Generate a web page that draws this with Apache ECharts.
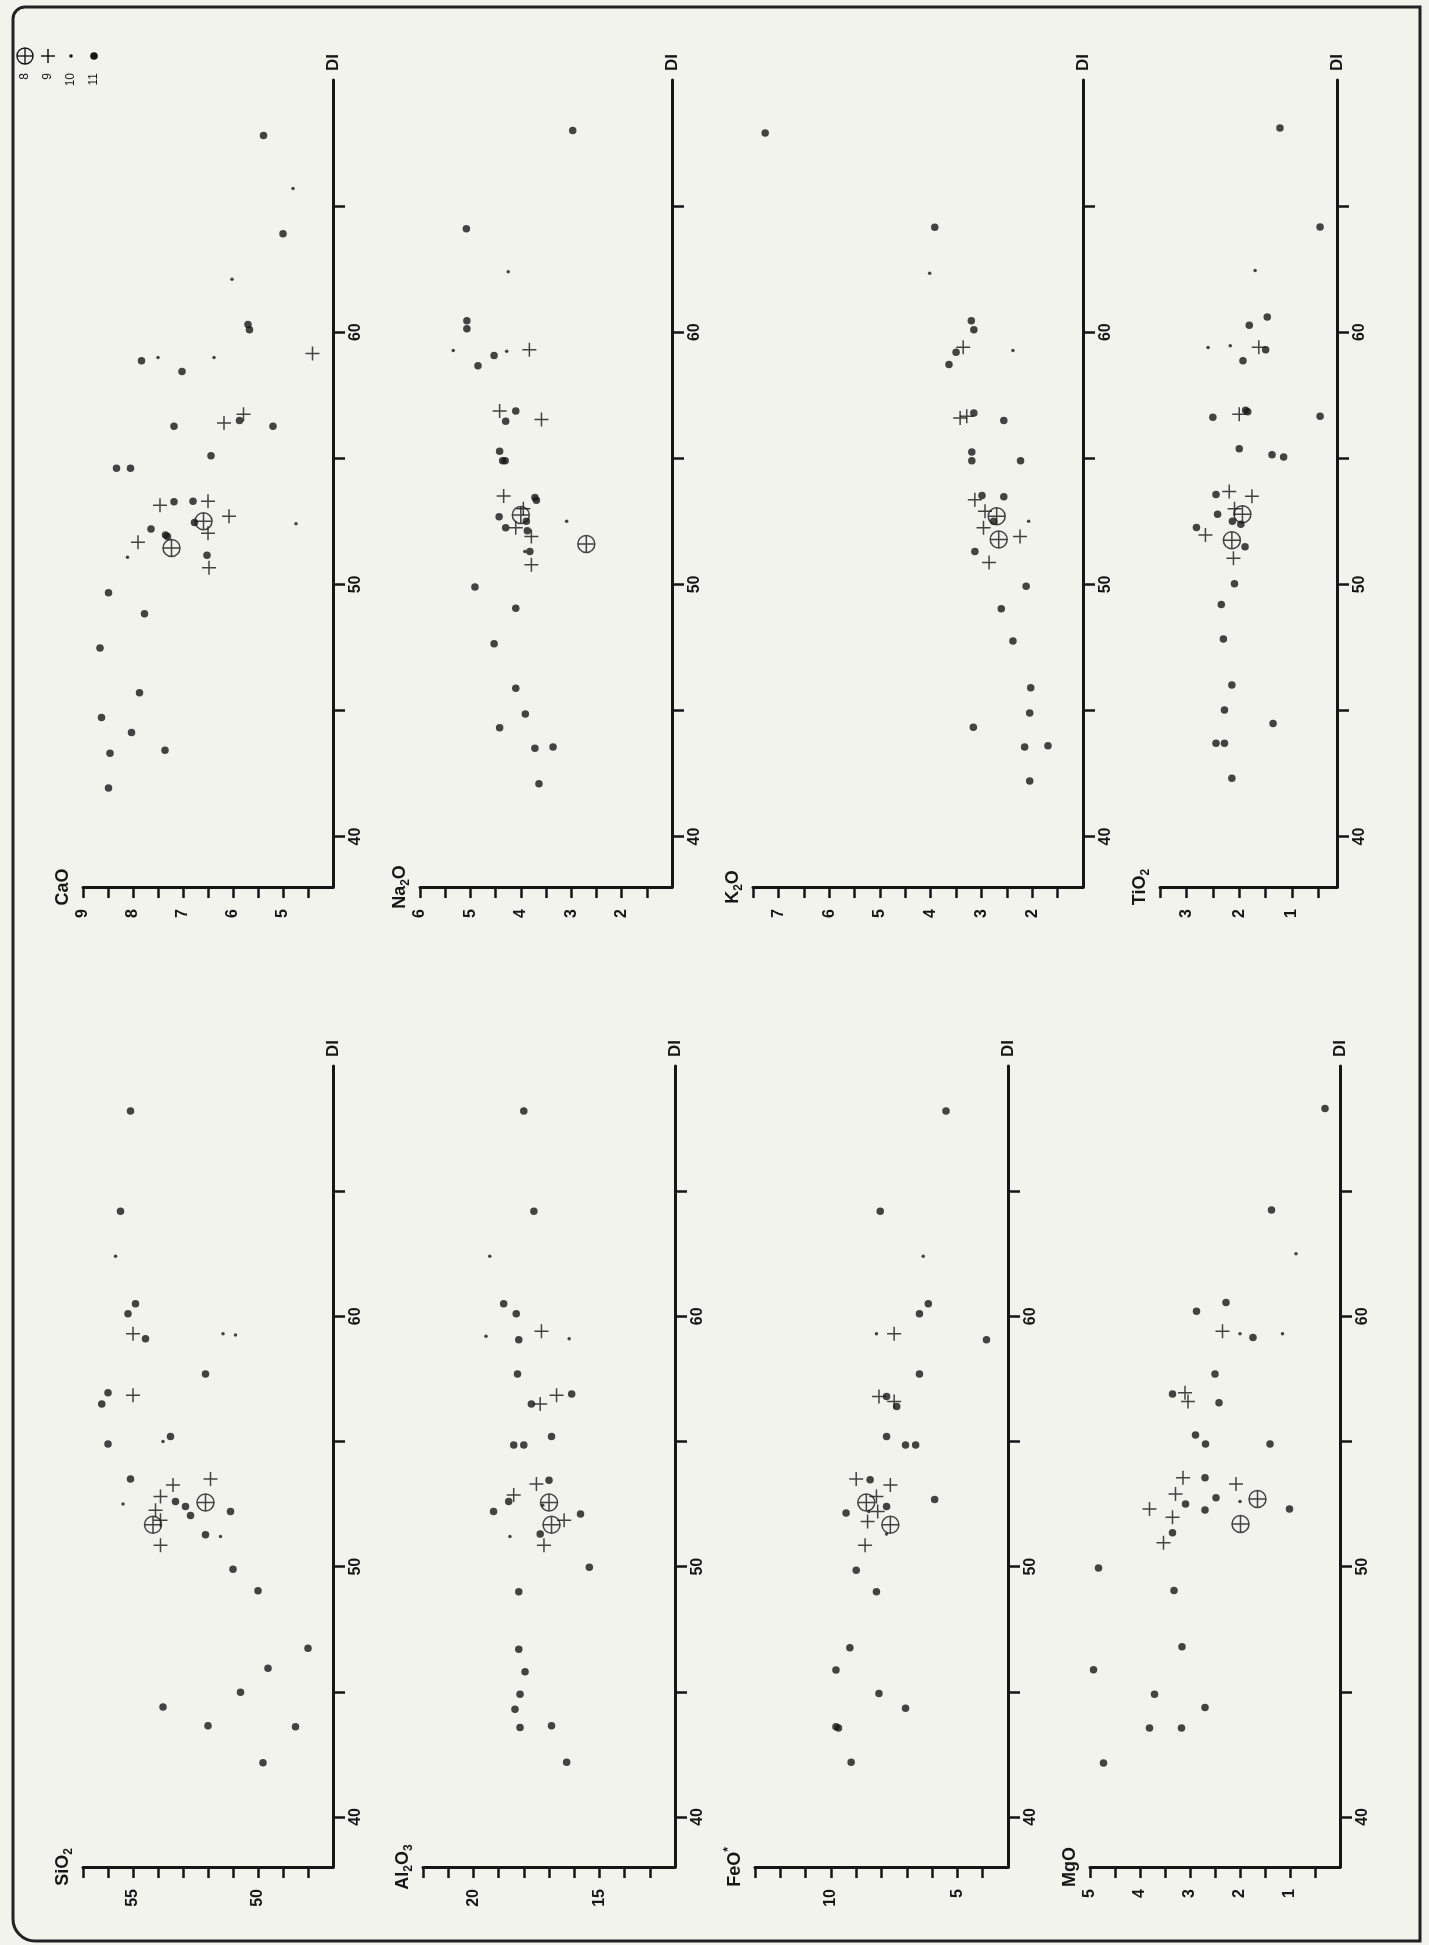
<!DOCTYPE html>
<html>
<head>
<meta charset="utf-8">
<title>DI variation diagrams</title>
<script src="https://cdn.jsdelivr.net/npm/echarts@6/dist/echarts.min.js"></script>
<style>
  html, body { margin: 0; padding: 0; background: #f3f3ee; }
  #chart { width: 1429px; height: 1945px; }
</style>
</head>
<body>
<div id="chart"></div>
<script>
// DI axis, shared by every panel
const diTicks = [40, 45, 50, 55, 60, 65];
const diLabels = [40, 50, 60];

// sample groups of the legend
const legendGroups = [8, 9, 10, 11];

// points: [DI, oxide wt%, group]
const sio2 = [
  [68.2, 55.1, 11], [64.2, 55.5, 11], [62.4, 55.7, 10], [60.5, 54.9, 11], [60.1, 55.2, 11],
  [59.3, 55.0, 9], [59.3, 51.4, 10], [59.25, 50.9, 10], [59.1, 54.5, 11], [57.7, 52.1, 11],
  [56.95, 56.0, 11], [56.5, 56.25, 11], [56.85, 55.0, 9], [54.9, 56.0, 11], [55.2, 53.5, 11],
  [55.0, 53.8, 10], [53.5, 55.1, 11], [53.26, 53.4, 9], [53.5, 51.9, 9], [52.5, 55.4, 10],
  [52.8, 53.9, 9], [52.25, 54.1, 9], [51.67, 54.2, 8], [51.85, 53.9, 9], [52.6, 53.3, 11],
  [52.4, 52.9, 11], [52.04, 52.7, 11], [52.56, 52.1, 8], [52.2, 51.1, 11], [51.27, 52.1, 11],
  [51.2, 51.5, 10], [50.85, 53.9, 9], [49.9, 51.0, 11], [49.04, 50.0, 11], [46.74, 48.0, 11],
  [45.94, 49.6, 11], [44.98, 50.7, 11], [44.39, 53.8, 11], [43.64, 52.0, 11], [43.6, 48.5, 11],
  [42.16, 49.8, 11]
];
const al2o3 = [
  [68.2, 18.0, 11], [64.2, 17.6, 11], [62.4, 19.35, 10], [60.5, 18.8, 11], [60.1, 18.3, 11],
  [59.2, 19.5, 10], [59.06, 18.2, 11], [59.4, 17.3, 9], [59.1, 16.2, 10], [57.7, 18.25, 11],
  [56.85, 16.7, 9], [56.9, 16.1, 11], [56.5, 17.7, 11], [56.5, 17.35, 9], [55.2, 16.9, 11],
  [54.86, 18.4, 11], [54.86, 18.0, 11], [52.86, 18.4, 9], [52.6, 18.6, 11], [52.2, 19.2, 11],
  [53.3, 17.5, 9], [53.45, 17.0, 11], [52.56, 17.0, 8], [52.45, 17.25, 10], [51.67, 16.9, 8],
  [51.85, 16.4, 9], [51.3, 17.35, 11], [51.2, 18.55, 10], [50.85, 17.2, 9], [52.1, 15.75, 11],
  [49.98, 15.4, 11], [49.0, 18.2, 11], [46.7, 18.2, 11], [45.8, 17.95, 11], [44.9, 18.15, 11],
  [44.3, 18.35, 11], [43.57, 18.15, 11], [43.64, 16.9, 11], [42.18, 16.3, 11]
];
const feo = [
  [68.2, 5.45, 11], [64.2, 8.05, 11], [62.4, 6.35, 10], [60.5, 6.15, 11], [60.1, 6.5, 11],
  [59.3, 8.2, 10], [59.3, 7.5, 9], [59.06, 3.85, 11], [57.7, 6.5, 11], [56.8, 8.1, 9],
  [56.8, 7.8, 11], [56.6, 7.5, 9], [56.4, 7.4, 11], [55.2, 7.8, 11], [54.86, 7.05, 11],
  [54.86, 6.65, 11], [53.5, 9.0, 9], [53.47, 8.45, 11], [53.26, 7.65, 9], [52.56, 8.6, 8],
  [52.8, 8.2, 9], [52.14, 9.4, 11], [52.4, 7.8, 11], [52.2, 8.5, 10], [52.2, 8.15, 9],
  [51.8, 8.55, 9], [51.67, 7.65, 8], [51.3, 7.8, 10], [50.85, 8.65, 9], [52.68, 5.9, 11],
  [49.86, 9.0, 11], [49.0, 8.2, 11], [46.76, 9.25, 11], [45.87, 9.8, 11], [44.93, 8.1, 11],
  [44.34, 7.05, 11], [43.6, 9.8, 11], [43.55, 9.7, 11], [42.18, 9.2, 11]
];
const mgo = [
  [68.3, 0.3, 11], [64.25, 1.37, 11], [62.5, 0.88, 10], [60.55, 2.28, 11], [60.2, 2.87, 11],
  [59.4, 2.35, 9], [59.3, 2.0, 10], [59.15, 1.74, 11], [59.3, 1.15, 10], [57.7, 2.5, 11],
  [56.9, 3.35, 11], [56.95, 3.1, 9], [56.6, 3.04, 9], [56.55, 2.42, 11], [55.26, 2.89, 11],
  [54.9, 2.69, 11], [54.9, 1.4, 11], [53.55, 3.14, 9], [53.55, 2.7, 11], [53.3, 2.08, 9],
  [52.9, 3.29, 9], [52.75, 2.48, 11], [52.6, 2.0, 10], [52.7, 1.65, 8], [52.3, 3.81, 9],
  [52.5, 3.09, 11], [52.26, 2.7, 11], [52.3, 1.01, 11], [51.97, 3.35, 9], [51.35, 3.35, 11],
  [51.7, 1.99, 8], [50.95, 3.53, 9], [49.95, 4.83, 11], [49.05, 3.32, 11], [46.8, 3.16, 11],
  [45.88, 4.93, 11], [44.9, 3.71, 11], [44.37, 2.7, 11], [43.55, 3.81, 11], [43.55, 3.17, 11],
  [42.15, 4.73, 11]
];
const cao = [
  [67.8, 5.39, 11], [65.7, 4.8, 10], [63.9, 5.0, 11], [62.1, 6.02, 10], [60.3, 5.7, 11],
  [60.1, 5.67, 11], [59.15, 4.41, 9], [58.87, 7.83, 11], [59.0, 7.5, 10], [59.0, 6.38, 10],
  [58.44, 7.02, 11], [56.4, 6.18, 9], [56.27, 7.18, 11], [56.5, 5.87, 11], [56.75, 5.79, 9],
  [56.27, 5.2, 11], [55.1, 6.44, 11], [54.6, 8.33, 11], [54.6, 8.05, 11], [53.28, 7.18, 11],
  [53.3, 6.8, 11], [53.3, 6.5, 9], [53.14, 7.46, 9], [52.7, 6.08, 9], [52.45, 6.77, 11],
  [52.5, 6.59, 8], [52.03, 6.5, 9], [52.2, 7.64, 11], [51.96, 7.35, 11], [51.9, 7.31, 11],
  [52.4, 4.74, 10], [51.67, 7.9, 9], [51.44, 7.23, 8], [51.08, 8.11, 10], [51.15, 6.52, 11],
  [50.66, 6.48, 9], [49.67, 8.49, 11], [48.84, 7.77, 11], [47.48, 8.66, 11], [45.7, 7.87, 11],
  [44.72, 8.63, 11], [44.13, 8.03, 11], [43.3, 8.46, 11], [43.42, 7.36, 11], [41.93, 8.49, 11]
];
const na2o = [
  [68.0, 2.97, 11], [64.1, 5.08, 11], [62.4, 4.25, 10], [60.45, 5.07, 11], [60.14, 5.07, 11],
  [59.27, 5.34, 10], [59.08, 4.53, 11], [59.24, 4.28, 10], [59.3, 3.83, 9], [58.67, 4.85, 11],
  [56.87, 4.42, 9], [56.87, 4.1, 11], [56.47, 4.3, 11], [56.54, 3.59, 9], [55.28, 4.42, 11],
  [54.9, 4.36, 11], [54.9, 4.31, 11], [53.5, 4.34, 9], [53.44, 3.72, 11], [53.34, 3.69, 11],
  [52.68, 4.43, 11], [52.75, 4.0, 8], [53.0, 3.95, 9], [52.5, 3.89, 11], [52.25, 4.3, 11],
  [52.25, 4.1, 9], [52.13, 3.87, 11], [52.5, 3.09, 10], [51.9, 3.79, 9], [51.6, 2.7, 8],
  [51.3, 3.82, 11], [51.3, 3.92, 10], [50.78, 3.79, 9], [49.9, 4.91, 11], [49.05, 4.1, 11],
  [47.65, 4.53, 11], [45.88, 4.1, 11], [44.86, 3.91, 11], [44.31, 4.42, 11], [43.5, 3.72, 11],
  [43.55, 3.36, 11], [42.09, 3.64, 11]
];
const k2o = [
  [67.9, 7.26, 11], [64.16, 3.92, 11], [62.34, 4.02, 10], [60.45, 3.2, 11], [60.1, 3.15, 11],
  [59.4, 3.36, 9], [59.2, 3.5, 11], [59.27, 2.38, 10], [58.72, 3.64, 11], [56.6, 3.42, 9],
  [56.8, 3.15, 11], [56.67, 3.29, 9], [56.5, 2.56, 11], [55.25, 3.19, 11], [54.9, 3.19, 11],
  [54.9, 2.23, 11], [53.36, 3.13, 9], [53.52, 2.99, 11], [53.47, 2.56, 11], [52.9, 2.93, 9],
  [52.7, 2.7, 8], [52.5, 2.76, 11], [52.25, 2.96, 9], [52.5, 2.07, 10], [51.9, 2.24, 9],
  [51.78, 2.66, 8], [51.3, 3.13, 11], [50.87, 2.85, 9], [49.93, 2.12, 11], [49.03, 2.61, 11],
  [47.75, 2.38, 11], [45.9, 2.03, 11], [44.9, 2.05, 11], [44.33, 3.16, 11], [43.55, 2.15, 11],
  [43.6, 1.69, 11], [42.2, 2.05, 11]
];
const tio2 = [
  [68.1, 1.23, 11], [64.17, 0.47, 11], [62.45, 1.7, 10], [60.6, 1.47, 11], [60.28, 1.81, 11],
  [59.39, 2.59, 10], [59.46, 2.17, 10], [59.4, 1.63, 9], [59.3, 1.5, 11], [58.87, 1.93, 11],
  [56.63, 2.5, 11], [56.75, 2.0, 9], [56.9, 1.88, 11], [56.85, 1.84, 11], [56.67, 0.47, 11],
  [55.38, 2.0, 11], [55.14, 1.38, 11], [55.05, 1.16, 11], [53.56, 2.44, 11], [53.68, 2.19, 9],
  [53.49, 1.76, 9], [52.78, 2.41, 11], [52.78, 1.94, 8], [53.0, 2.09, 9], [52.26, 2.81, 11],
  [51.96, 2.64, 9], [52.5, 2.13, 11], [52.38, 1.97, 11], [51.75, 2.14, 8], [51.49, 1.89, 11],
  [51.04, 2.11, 9], [50.02, 2.09, 11], [49.2, 2.34, 11], [47.83, 2.3, 11], [46.01, 2.14, 11],
  [45.02, 2.28, 11], [44.48, 1.36, 11], [43.7, 2.44, 11], [43.7, 2.28, 11], [42.31, 2.14, 11]
];

// oxide axis ticks and labels
const sio2Ticks = [48, 49, 50, 51, 52, 53, 54, 55, 56, 57];
const sio2Labels = [50, 55];
const al2o3Ticks = [13, 14, 15, 16, 17, 18, 19, 20, 21, 22];
const al2o3Labels = [15, 20];
const feoTicks = [4, 5, 6, 7, 8, 9, 10, 11, 12, 13];
const feoLabels = [5, 10];
const mgoTicks = [0.5, 1, 1.5, 2, 2.5, 3, 3.5, 4, 4.5, 5];
const mgoLabels = [1, 2, 3, 4, 5];
const caoTicks = [4.5, 5, 5.5, 6, 6.5, 7, 7.5, 8, 8.5, 9];
const caoLabels = [5, 6, 7, 8, 9];
const na2oTicks = [1.5, 2, 2.5, 3, 3.5, 4, 4.5, 5, 5.5, 6];
const na2oLabels = [2, 3, 4, 5, 6];
const k2oTicks = [1.5, 2, 2.5, 3, 3.5, 4, 4.5, 5, 5.5, 6, 6.5, 7, 7.5];
const k2oLabels = [2, 3, 4, 5, 6, 7];
const tio2Ticks = [0.5, 1, 1.5, 2, 2.5, 3, 3.5];
const tio2Labels = [1, 2, 3];

const INK = '#161616';
const FONT = '"Liberation Sans", Arial, sans-serif';

// layout of the page, which is printed turned a quarter turn
const LEFT_COL = { top: 1066, height: 801 };
const RIGHT_COL = { top: 80, height: 807 };

const panels = [
  { name: '{b|SiO}{s|2}', data: sio2, min: 47, max: 57, ticks: sio2Ticks, labels: sio2Labels, left: 83, width: 250, col: LEFT_COL },
  { name: '{b|Al}{s|2}{b|O}{s|3}', data: al2o3, min: 12, max: 22, ticks: al2o3Ticks, labels: al2o3Labels, left: 423, width: 252, col: LEFT_COL },
  { name: '{b|FeO}{t|*}', data: feo, min: 3, max: 13, ticks: feoTicks, labels: feoLabels, left: 755, width: 253, col: LEFT_COL },
  { name: '{b|MgO}', data: mgo, min: 0, max: 5, ticks: mgoTicks, labels: mgoLabels, left: 1090, width: 250, col: LEFT_COL },
  { name: '{b|CaO}', data: cao, min: 4, max: 9, ticks: caoTicks, labels: caoLabels, left: 83, width: 250, col: RIGHT_COL },
  { name: '{b|Na}{s|2}{b|O}', data: na2o, min: 1, max: 6, ticks: na2oTicks, labels: na2oLabels, left: 420, width: 252, col: RIGHT_COL },
  { name: '{b|K}{s|2}{b|O}', data: k2o, min: 1, max: 7.5, ticks: k2oTicks, labels: k2oLabels, left: 753, width: 330, col: RIGHT_COL },
  { name: '{b|TiO}{s|2}', data: tio2, min: 0.15, max: 3.5, ticks: tio2Ticks, labels: tio2Labels, left: 1160, width: 177, col: RIGHT_COL }
];

const symbolFor = {
  8: 'path://M0,10A10,10 0 1 1 20,10A10,10 0 1 1 0,10Z M0,10L20,10 M10,0L10,20',
  9: 'path://M0,7L14,7 M7,0L7,14',
  10: 'circle',
  11: 'circle'
};
const sizeFor = { 8: 17, 9: 14, 10: 3.5, 11: 7.5 };
function styleFor(g) {
  if (g === 8 || g === 9) {
    return { color: 'transparent', borderColor: INK, borderWidth: 1.5 };
  }
  return { color: INK };
}

const grid = [];
const xAxis = [];
const yAxis = [];
const series = [];

panels.forEach((p, i) => {
  grid.push({ left: p.left, top: p.col.top, width: p.width, height: p.col.height });
  // oxide axis: runs along the bottom, grows to the left
  xAxis.push({
    gridIndex: i,
    type: 'value',
    inverse: true,
    position: 'bottom',
    min: p.min,
    max: p.max,
    name: p.name,
    nameLocation: 'end',
    nameRotate: 90,
    nameGap: 8,
    nameTextStyle: {
      color: INK,
      fontFamily: FONT,
      rich: {
        b: { fontSize: 18, fontWeight: 'bold', fontFamily: FONT, color: INK, lineHeight: 24 },
        s: { fontSize: 12, fontWeight: 'bold', fontFamily: FONT, color: INK, verticalAlign: 'bottom', lineHeight: 12 },
        t: { fontSize: 12, fontWeight: 'bold', fontFamily: FONT, color: INK, verticalAlign: 'top', lineHeight: 12 }
      }
    },
    axisLine: { show: true, onZero: false, lineStyle: { color: INK, width: 3 } },
    axisTick: { show: true, length: 11, customValues: p.ticks, lineStyle: { color: INK, width: 2.5 } },
    axisLabel: {
      customValues: p.labels,
      rotate: 90,
      margin: 22,
      color: INK,
      fontSize: 16,
      fontWeight: 'bold',
      fontFamily: FONT
    },
    splitLine: { show: false }
  });
  // DI axis: vertical, on the right of each panel
  yAxis.push({
    gridIndex: i,
    type: 'value',
    position: 'right',
    min: 38,
    max: 70,
    name: 'DI',
    nameLocation: 'end',
    nameRotate: 90,
    nameGap: 9,
    nameTextStyle: { color: INK, fontSize: 17, fontWeight: 'bold', fontFamily: FONT },
    axisLine: { show: true, onZero: false, lineStyle: { color: INK, width: 3 } },
    axisTick: { show: true, length: 12, customValues: diTicks, lineStyle: { color: INK, width: 2.5 } },
    axisLabel: {
      customValues: diLabels,
      rotate: 90,
      margin: 15,
      color: INK,
      fontSize: 16,
      fontWeight: 'bold',
      fontFamily: FONT
    },
    splitLine: { show: false }
  });
  legendGroups.forEach(g => {
    series.push({
      type: 'scatter',
      xAxisIndex: i,
      yAxisIndex: i,
      symbol: symbolFor[g],
      symbolSize: sizeFor[g],
      itemStyle: styleFor(g),
      z: g === 8 ? 4 : 3,
      silent: true,
      data: p.data.filter(d => d[2] === g).map(d => [d[1], d[0]])
    });
  });
});

// key of the symbols, drawn turned like the rest of the page
const keyChildren = [];
legendGroups.forEach((g, k) => {
  const y = k * 23;
  keyChildren.push({
    type: 'text', x: -3, y: y,
    style: { text: String(g), align: 'right', verticalAlign: 'middle', fontSize: 12, fontFamily: FONT, fill: INK }
  });
  if (g === 8) {
    keyChildren.push({ type: 'circle', shape: { cx: 14, cy: y, r: 8 }, style: { fill: 'none', stroke: INK, lineWidth: 1.4 } });
    keyChildren.push({ type: 'line', shape: { x1: 6, y1: y, x2: 22, y2: y }, style: { stroke: INK, lineWidth: 1.4 } });
    keyChildren.push({ type: 'line', shape: { x1: 14, y1: y - 8, x2: 14, y2: y + 8 }, style: { stroke: INK, lineWidth: 1.4 } });
  } else if (g === 9) {
    keyChildren.push({ type: 'line', shape: { x1: 7, y1: y, x2: 21, y2: y }, style: { stroke: INK, lineWidth: 1.5 } });
    keyChildren.push({ type: 'line', shape: { x1: 14, y1: y - 7, x2: 14, y2: y + 7 }, style: { stroke: INK, lineWidth: 1.5 } });
  } else {
    keyChildren.push({ type: 'circle', shape: { cx: 14, cy: y, r: g === 10 ? 1.8 : 3.8 }, style: { fill: INK } });
  }
});

const chart = echarts.init(document.getElementById('chart'));
chart.setOption({
  animation: false,
  backgroundColor: '#f3f3ee',
  grid,
  xAxis,
  yAxis,
  series,
  graphic: [
    {
      type: 'rect',
      silent: true,
      z: -1,
      shape: { x: 13, y: 7, width: 1407, height: 1934, r: [12, 0, 0, 22] },
      style: { fill: 'none', stroke: '#222', lineWidth: 3 }
    },
    {
      type: 'group',
      x: 25,
      y: 70,
      rotation: Math.PI / 2,
      silent: true,
      children: keyChildren
    }
  ]
});
</script>
</body>
</html>
